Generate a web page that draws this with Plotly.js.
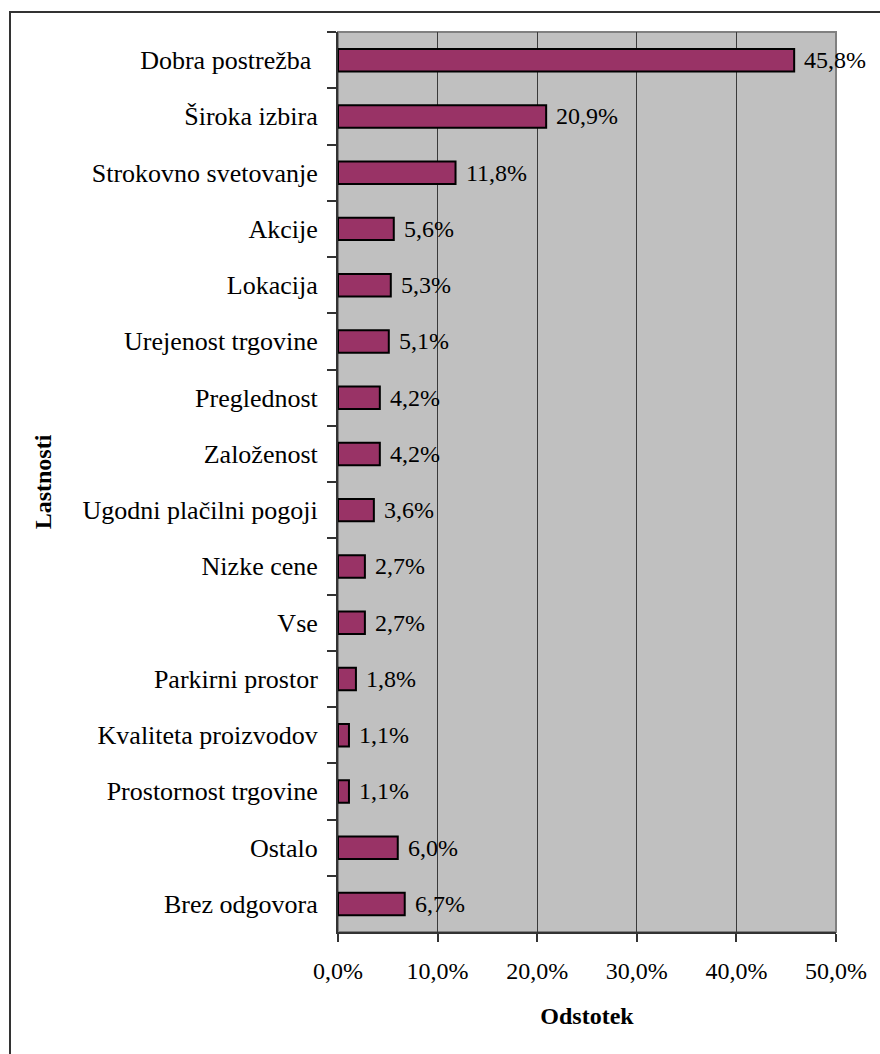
<!DOCTYPE html>
<html>
<head>
<meta charset="utf-8">
<script src="https://cdn.plot.ly/plotly-3.0.1.min.js"></script>
<style>html,body{margin:0;padding:0;background:#fff;}#chart{width:880px;height:1054px;}</style>
</head>
<body>
<div id="chart"></div>
<script>
var categories = ["Dobra postrežba ", "Široka izbira", "Strokovno svetovanje", "Akcije", "Lokacija",
  "Urejenost trgovine", "Preglednost", "Založenost", "Ugodni plačilni pogoji", "Nizke cene",
  "Vse", "Parkirni prostor", "Kvaliteta proizvodov", "Prostornost trgovine", "Ostalo", "Brez odgovora"];
var values = [45.8, 20.9, 11.8, 5.6, 5.3, 5.1, 4.2, 4.2, 3.6, 2.7, 2.7, 1.8, 1.1, 1.1, 6.0, 6.7];
var tickValues = [0, 10, 20, 30, 40, 50];
var tickLabels = ["0,0%", "10,0%", "20,0%", "30,0%", "40,0%", "50,0%"];

var FONT = "Liberation Serif, Times New Roman, DejaVu Serif, serif";
function fmt(v){ return v.toFixed(1).replace('.', ',') + '%'; }

var trace = {
  type: 'bar', orientation: 'h',
  x: values, y: categories,
  marker: {color: '#993366', line: {color: '#000000', width: 2}},
  hoverinfo: 'skip'
};

var annotations = values.map(function(v, i){
  return {x: v, y: categories[i], xref: 'x', yref: 'y', text: fmt(v), showarrow: false,
    xanchor: 'left', xshift: 8, font: {family: FONT, size: 24, color: '#000'}};
});

var L = 338, R = 44, T = 32, B = 122, W = 880, H = 1054;
var pw = W - L - R, ph = H - T - B;
function px2x(p){ return (p - L) / pw; }
function py2y(p){ return (H - B - p) / ph; }

var layout = {
  width: W, height: H,
  margin: {l: L, r: R, t: T, b: B, pad: 0},
  paper_bgcolor: '#ffffff', plot_bgcolor: '#C0C0C0',
  font: {family: FONT, size: 24, color: '#000'},
  showlegend: false,
  bargap: 0.6,
  xaxis: {
    range: [0, 50], tickvals: tickValues, ticktext: tickLabels,
    showgrid: true, gridcolor: '#3a3a3a', gridwidth: 1,
    zeroline: false, showline: true, linecolor: '#333', linewidth: 2,
    ticks: 'outside', ticklen: 8, tickcolor: '#333', tickwidth: 2,
    ticklabelstandoff: 8,
    tickfont: {family: FONT, size: 24},
    title: {text: '<b>Odstotek</b>', font: {family: FONT, size: 24}, standoff: 24},
    fixedrange: true
  },
  yaxis: {
    autorange: 'reversed', type: 'category',
    showgrid: false, zeroline: false, showline: true, linecolor: '#333', linewidth: 2,
    ticks: 'outside', ticklen: 9, tickcolor: '#333', tickwidth: 2, tickson: 'boundaries',
    ticklabelstandoff: 13,
    tickfont: {family: FONT, size: 26},
    title: {text: '<b>Lastnosti</b>', font: {family: FONT, size: 24}, standoff: 24},
    fixedrange: true
  },
  annotations: annotations,
  shapes: [
    {type: 'rect', xref: 'paper', yref: 'paper', x0: 0, x1: 1, y0: 0, y1: 1,
     line: {color: '#808080', width: 2}, layer: 'below'},
    {type: 'rect', xref: 'paper', yref: 'paper', x0: px2x(10), x1: px2x(900), y0: py2y(1080), y1: py2y(12),
     line: {color: '#333', width: 2}, fillcolor: 'rgba(0,0,0,0)'}
  ]
};

Plotly.newPlot('chart', [trace], layout, {displayModeBar: false, staticPlot: true});
</script>
</body>
</html>
